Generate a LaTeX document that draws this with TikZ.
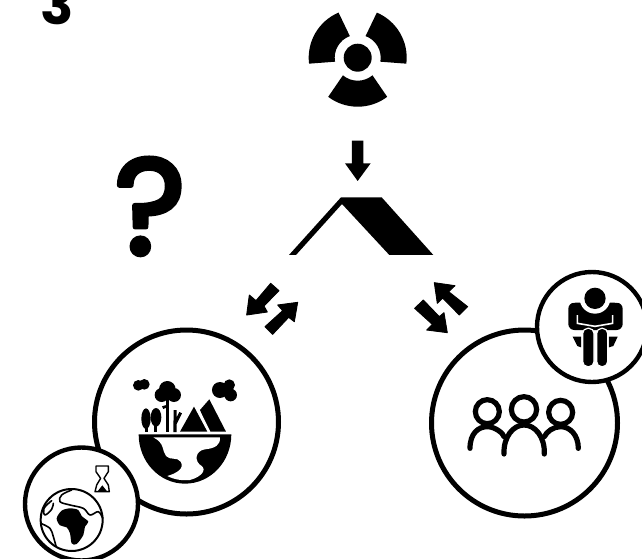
\documentclass[tikz,border=0pt]{standalone}
\usepackage{fontspec}
\setmainfont{Poppins}[BoldFont=Poppins Bold]
\newcommand{\inkstroke}[1]{\special{pdf:code q 1 j 1 J 2 Tr #1 w}}
\newcommand{\inkend}{\special{pdf:code Q}}
\tikzset{
  ring/.style={draw=black,fill=white,line width=5pt},
  smallring/.style={draw=black,fill=white,line width=4.4pt},
  arrow ink/.style={fill=black,draw=black,line width=0.9pt,line join=round},
  thin ink/.style={draw=black,line width=1.6pt,line cap=round,line join=round},
  people/.style={draw=black,line width=5.2pt,line cap=round,fill=none},
  label mark/.style={inner sep=0pt}
}
\begin{document}
\begin{tikzpicture}[x=1pt,y=-1pt]
\useasboundingbox (0,0) rectangle (642,558);
\fill[white] (0,0) rectangle (642,558);
% labels
\node[label mark,font=\bfseries\fontsize{55}{55}\selectfont,anchor=base] (num) at (57,24) {3};
\node[label mark,font=\fontsize{136}{136}\selectfont,anchor=base] (quest) at (150,254) {\inkstroke{5}?\inkend};
% radiation
\begin{scope}[shift={(357.7,57.7)}]
  \fill (0,0) circle[radius=14];
  \foreach \r in {0,120,240}{
    \begin{scope}[rotate=\r]
      \fill (53:49) arc[start angle=53,end angle=127,radius=49] -- (130:23) arc[start angle=130,end angle=50,radius=23] -- cycle;
    \end{scope}}
\end{scope}
% down arrow and roof
\begin{scope}[shift={(280,0)},x=0.3333pt,y=-0.3333pt]
  \fill (216,422)--(250,422)--(250,490)--(272,490)--(233,543)--(195,490)--(216,490)--cycle;
  \fill (27,765)--(183,592)--(305,592)--(460,765)--(328,765)--(186,612)--(48,765)--cycle;
\end{scope}
% exchange arrows
\begin{scope}[shift={(230,270)},x=0.3333pt,y=-0.3333pt]
  \path[arrow ink] (122,40)--(147,62)--(102,108)--(112,126)--(50,135)--(58,75)--(78,92)--cycle;
  \path[arrow ink] (128,193)--(105,170)--(158,122)--(143,105)--(203,97)--(193,155)--(176,142)--cycle;
  \path[arrow ink] (613,38)--(675,47)--(656,65)--(713,110)--(688,135)--(638,84)--(622,100)--cycle;
  \path[arrow ink] (580,90)--(554,115)--(607,163)--(590,180)--(652,188)--(642,128)--(628,140)--cycle;
\end{scope}
% circles
\node[circle,ring,minimum size=184pt,inner sep=0pt] (nature) at (186.5,422) {};
\node[circle,ring,minimum size=186pt,inner sep=0pt] (society) at (524.5,423) {};
\node[circle,smallring,minimum size=113pt,inner sep=0pt] (world) at (81.5,504) {};
\node[circle,smallring,minimum size=110pt,inner sep=0pt] (person) at (592,327) {};
% nature icon
\begin{scope}[shift={(90,330)},x=0.3333pt,y=-0.3333pt]
  \fill (145,166) circle[radius=16] (163,163) circle[radius=16];
  \fill (390,180) circle[radius=24] (418,165) circle[radius=17] (422,195) circle[radius=19] (410,180) circle[radius=15];
  \fill (232,178) circle[radius=25] (215,195) circle[radius=21] (252,195) circle[radius=21];
  \fill (227,205)--(238,205)--(238,306)--(227,306)--cycle;
  \fill (216,229)--(229,225)--(229,233)--(220,237)--cycle;
  \fill (168,266) ellipse[x radius=14,y radius=31];
  \fill (198,262) ellipse[x radius=16,y radius=28];
  \fill (165,285)--(173,285)--(173,306)--(165,306)--cycle;
  \fill (192,285)--(201,285)--(201,306)--(192,306)--cycle;
  \fill (250,306)--(251,240)--(260,240)--(260,262)--(268,246)--(276,250)--(260,282)--(260,306)--cycle;
  \fill (330,240)--(358,208)--(408,305)--(356,305)--cycle;
  \fill[white] (305,222)--(320,222)--(362,307)--(346,307)--cycle;
  \fill (270,305)--(312,230)--(352,305)--cycle;
  \fill (146,313)--(424,313) arc[start angle=0,end angle=180,x radius=139,y radius=148] --cycle;
  \fill[white] (190,322)--(390,322) .. controls (392,345) and (375,355) .. (345,358)
    .. controls (315,362) and (312,395) .. (335,408) .. controls (350,420) and (335,440) .. (300,450)
    .. controls (280,452) and (255,450) .. (232,438) .. controls (260,430) and (285,415) .. (272,395)
    .. controls (262,380) and (240,392) .. (228,378) .. controls (215,360) and (225,340) .. (190,322) -- cycle;
\end{scope}
% world icon
\begin{scope}[shift={(20,440)},x=0.3333pt,y=-0.3333pt]
  \draw[thin ink,line width=2pt] (155,240) circle[radius=93];
  \fill plot[smooth cycle,tension=0.5] coordinates {(110,235)(125,212)(150,205)(175,210)(185,228)(205,245)(195,260)(190,285)(170,312)(155,310)(150,280)(140,262)(120,256)};
  \draw[thin ink] plot[smooth,tension=0.6] coordinates {(155,150)(125,165)(120,185)(150,195)(190,205)(210,225)(235,215)(248,235)};
  \draw[thin ink] plot[smooth,tension=0.6] coordinates {(95,182)(72,205)(75,225)(95,208)(100,190)};
  \draw[thin ink] plot[smooth,tension=0.6] coordinates {(62,250)(90,265)(100,290)(108,318)};
  \draw[thin ink,line width=1.4pt] (228,78)--(265,78)--(265,95)--(252,115)--(265,135)--(268,155)--(225,155)--(230,135)--(242,115)--(228,95)--cycle;
  \fill (232,155)--(262,155)--(247,136)--cycle;
\end{scope}
% person icon
\begin{scope}[shift={(520,260)},x=0.3333pt,y=-0.3333pt]
  \fill[rounded corners=6pt] (145,128)--(308,128)--(308,210)--(145,210)--cycle;
  \fill[white] (225,115) circle[radius=46];
  \fill[white] (120,100)--(165,100)--(165,128)--(120,128)--cycle (285,100)--(330,100)--(330,128)--(285,128)--cycle;
  \fill (225,115) circle[radius=32];
  \draw[white,line width=1.6pt] (172,165)--(172,190)--(225,199)--(278,190)--(278,165);
  \fill (158,230)--(183,230)--(183,262)--(172,258)--cycle;
  \fill (267,230)--(293,230)--(280,258)--(267,262)--cycle;
  \draw[white,line width=1.2pt,fill=black,rounded corners=5pt] (188,205)--(222,205)--(222,320)--(188,320)--cycle;
  \draw[white,line width=1.2pt,fill=black,rounded corners=5pt] (230,205)--(263,205)--(263,320)--(230,320)--cycle;
\end{scope}
% people icon
\begin{scope}[shift={(450,380)},x=0.3333pt,y=-0.3333pt]
  \draw[people] (112,95) circle[radius=36];
  \draw[people] (222,88) circle[radius=38];
  \draw[people] (332,97) circle[radius=36];
  \draw[people] (60,205) .. controls (60,160) and (85,140) .. (112,140) .. controls (135,140) and (160,160) .. (162,170);
  \draw[people] (162,222) .. controls (160,170) and (190,135) .. (222,135) .. controls (255,135) and (285,170) .. (283,222);
  \draw[people] (283,170) .. controls (290,155) and (310,140) .. (332,140) .. controls (360,140) and (385,165) .. (385,205);
\end{scope}
\end{tikzpicture}
\end{document}
